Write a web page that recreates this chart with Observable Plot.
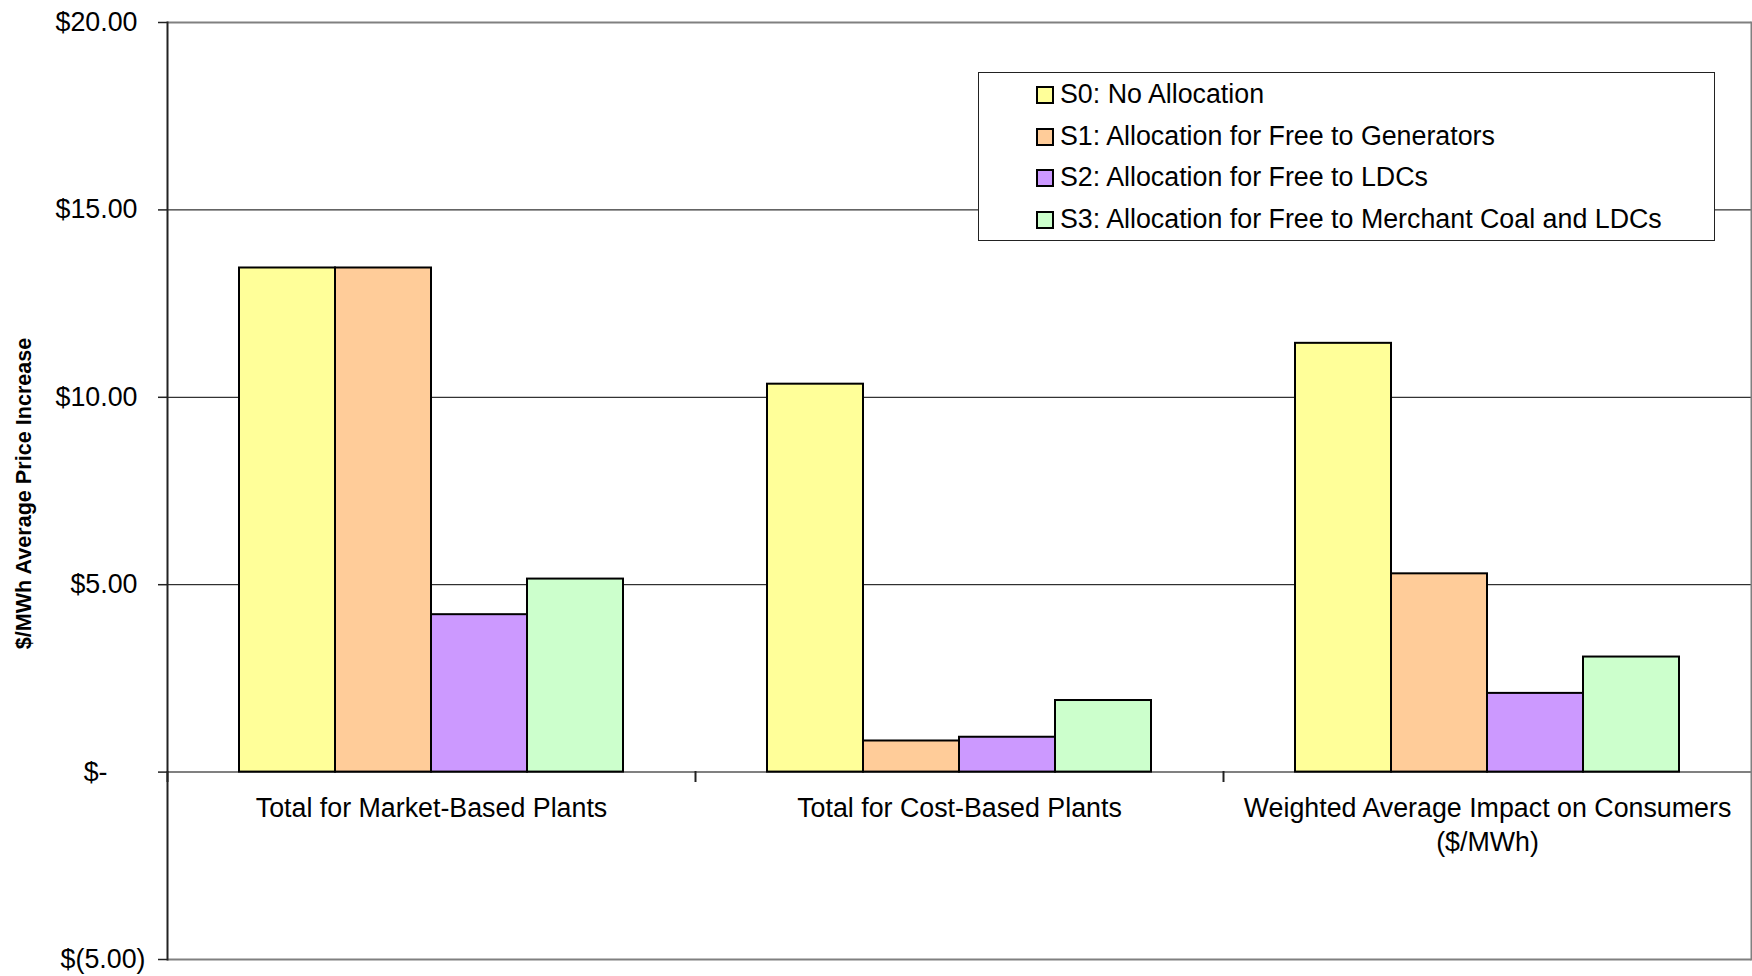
<!DOCTYPE html>
<html>
<head>
<meta charset="utf-8">
<script src="https://cdn.jsdelivr.net/npm/d3@7"></script>
<script src="https://cdn.jsdelivr.net/npm/@observablehq/plot@0.6"></script>
<style>
  html, body { margin: 0; padding: 0; background: #fff; }
  #wrap { position: relative; width: 1752px; height: 976px; font-family: "Liberation Sans", Arial, sans-serif; }
  #legend {
    position: absolute; left: 978px; top: 72px; width: 737px; height: 169px;
    box-sizing: border-box; border: 1.5px solid #222; background: #fff;
    padding: 1px 0 0 57px; font-size: 26.8px; color: #000;
  }
  #legend .row { display: flex; align-items: center; height: 41.7px; line-height: 41.7px; white-space: nowrap; }
  #legend .sw { width: 18px; height: 18px; box-sizing: border-box; border: 2px solid #000; margin-right: 6px; }
</style>
</head>
<body>
<div id="wrap"></div>
<script>
// Categories along the x axis (the third label wraps onto two lines)
const categories = [
  "Total for Market-Based Plants",
  "Total for Cost-Based Plants",
  "Weighted Average Impact on Consumers\n($/MWh)"
];

// Allocation scenarios
const series = [
  "S0: No Allocation",
  "S1: Allocation for Free to Generators",
  "S2: Allocation for Free to LDCs",
  "S3: Allocation for Free to Merchant Coal and LDCs"
];

// $/MWh average price increase per scenario, one value per category
const s0 = [13.45, 10.35, 11.44];
const s1 = [13.45, 0.83, 5.29];
const s2 = [4.20, 0.93, 2.10];
const s3 = [5.15, 1.91, 3.07];

const colors = ["#FFFF99", "#FFCC99", "#CC99FF", "#CCFFCC"];

// Value axis ticks
const yTicks = [-5, 0, 5, 10, 15, 20];

const seriesValues = [s0, s1, s2, s3];
const data = categories.flatMap((c, i) =>
  series.map((s, j) => ({category: c, series: s, value: seriesValues[j][i]}))
);

const fmt = v => v === 0 ? "$-" : v < 0 ? `$(${(-v).toFixed(2)})` : `$${v.toFixed(2)}`;
const yMin = d3.min(yTicks), yMax = d3.max(yTicks);
const FS = 26.8;

const chart = Plot.plot({
  width: 1752,
  height: 976,
  marginLeft: 166,
  marginRight: 1,
  marginTop: 22,
  marginBottom: 17,
  style: {fontFamily: '"Liberation Sans", Arial, sans-serif', fontSize: FS + "px", color: "#000", background: "#fff"},
  fx: {domain: categories, padding: 0, axis: null},
  x: {domain: series, paddingInner: 0, paddingOuter: 0.745, axis: null},
  y: {domain: [yMin, yMax], axis: null},
  color: {domain: series, range: colors},
  marks: [
    // horizontal gridlines
    Plot.ruleY(yTicks.filter(v => v > yMin && v < yMax && v !== 0), {stroke: "#000", strokeWidth: 1}),
    // plot area top and bottom border
    Plot.ruleY([yMax, yMin], {stroke: "#808080", strokeWidth: 2}),
    // zero baseline
    Plot.ruleY([0], {stroke: "#808080", strokeWidth: 2}),
    // grouped bars
    Plot.barY(data, {fx: "category", x: "series", y: "value", fill: "series", stroke: "#000", strokeWidth: 2}),
    // right border
    Plot.frame({anchor: "right", facetAnchor: "right", stroke: "#808080", strokeWidth: 2}),
    // small category separator ticks below the baseline
    Plot.frame({anchor: "left", stroke: "#222", strokeWidth: 2, insetTop: 749.5, insetBottom: 178.5}),
    // value axis line and ticks
    Plot.frame({anchor: "left", facetAnchor: "left", stroke: "#222", strokeWidth: 2}),
    Plot.axisY({ticks: yTicks, tickSize: 9, tickFormat: () => "", label: null, stroke: "#222", strokeWidth: 1.5}),
    // value axis labels, aligned in accounting style
    Plot.text(yTicks.filter(v => v > 0), {y: d => d, text: fmt, frameAnchor: "left", textAnchor: "end", dx: -30, facetAnchor: "left", fontSize: FS, fill: "#000"}),
    Plot.text(yTicks.filter(v => v === 0), {y: d => d, text: fmt, frameAnchor: "left", textAnchor: "end", dx: -60, facetAnchor: "left", fontSize: FS, fill: "#000"}),
    Plot.text(yTicks.filter(v => v < 0), {y: d => d, text: fmt, frameAnchor: "left", textAnchor: "end", dx: -22, facetAnchor: "left", fontSize: FS, fill: "#000"}),
    // value axis title
    Plot.text(["$/MWh Average Price Increase"], {frameAnchor: "left", textAnchor: "middle", dx: -143, dy: 2.5, rotate: -90, facetAnchor: "left", fontSize: 21.6, fontWeight: "bold", fill: "#000"}),
    // category labels under the baseline
    Plot.text(categories, {fx: d => d, y: () => 0, text: d => d, lineAnchor: "top", dy: 21.5, lineHeight: 1.25, fontSize: FS, fill: "#000"})
  ]
});

const wrap = document.getElementById("wrap");
wrap.appendChild(chart);

// Legend box
const legend = document.createElement("div");
legend.id = "legend";
series.forEach((s, j) => {
  const row = document.createElement("div");
  row.className = "row";
  const sw = document.createElement("span");
  sw.className = "sw";
  sw.style.background = colors[j];
  const label = document.createElement("span");
  label.textContent = s;
  row.appendChild(sw);
  row.appendChild(label);
  legend.appendChild(row);
});
wrap.appendChild(legend);
</script>
</body>
</html>
